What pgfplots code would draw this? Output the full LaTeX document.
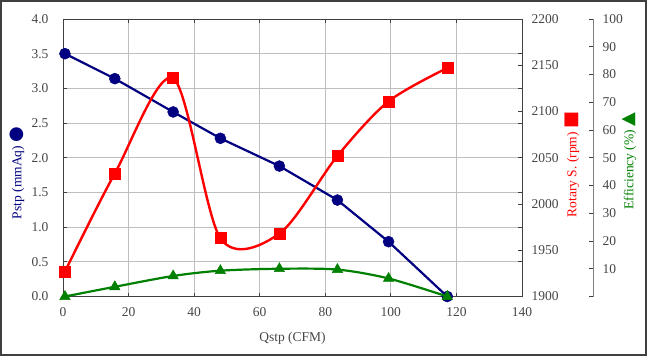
\documentclass[border=0pt]{standalone}
\usepackage{fontspec}
\setmainfont{Liberation Serif}
\newfontfamily\symfont{DejaVu Sans}
\usepackage{pgfplots}
\pgfplotsset{compat=1.18}
\definecolor{navyb}{RGB}{0,0,128}
\definecolor{gridc}{RGB}{190,190,190}
\definecolor{axc}{RGB}{64,64,64}
\definecolor{tickc}{RGB}{70,70,70}
\definecolor{effg}{RGB}{0,128,0}
\definecolor{effax}{RGB}{128,128,128}
\begin{document}
\begin{tikzpicture}[x=1pt,y=1pt,font=\fontsize{13.5}{16}\selectfont]
\useasboundingbox (0,0) rectangle (647,356);
\draw[axc, line width=1.5pt] (1,1) rectangle (646,355);
\pgfplotsset{
  base/.style={scale only axis, width=459pt, height=277.5pt,
    at={(63pt,59.5pt)}, anchor=south west, xmin=0, xmax=140,
    clip=false,
    /pgf/number format/assume math mode=true,
    tick label style={color=tickc, font=\fontsize{13.5}{16}\selectfont},
    axis line style={axc, line width=0.9pt},
    tick style={axc, line width=0.8pt},
    tick align=inside, major tick length=4pt},
}
\begin{axis}[base, ymin=0, ymax=4, ytick={0,0.5,...,4}, xtick={0,20,...,140},
  grid=major, grid style={gridc, line width=0.8pt},
  yticklabel style={xshift=-11pt, /pgf/number format/.cd, fixed, fixed zerofill, precision=1},
  xticklabel style={yshift=-7pt},
  every axis x label/.style={at={(axis description cs:0.5,0)}, anchor=center, yshift=-41.5pt},
  xlabel={Qstp (CFM)}, xlabel style={font=\fontsize{13.5}{16}\selectfont, color=tickc}]
\addplot[navyb, line width=2.2pt, mark=*, mark size=5.5pt, mark options={fill=navyb, line width=0.5pt}]
coordinates {(0.6,3.50) (15.8,3.14) (33.6,2.66) (48.0,2.28) (66.0,1.88) (83.7,1.39) (99.3,0.79) (117.2,0.0)};
\end{axis}
\begin{axis}[base, ymin=1900, ymax=2200, ytick={1900,1950,...,2200},
  axis y line*=right, axis x line=none,
  yticklabel style={xshift=6pt, /pgf/number format/.cd, set thousands separator={}}]
\addplot[red, line width=2.4pt, smooth, mark=square*, mark size=5.5pt, mark options={fill=red, line width=0.5pt}]
coordinates {(0.6,1927) (15.8,2033) (33.6,2136) (48.0,1963) (66.0,1968) (83.7,2052) (99.3,2111) (117.2,2147)};
\end{axis}
\begin{axis}[base, ymin=0, ymax=100, ytick={0,10,...,100},
  yticklabels={,10,20,30,40,50,60,70,80,90,100},
  axis y line*=right, axis x line=none,
  every outer y axis line/.append style={xshift=71pt, effax},
  ytick style={xshift=71pt},
  yticklabel style={xshift=77pt}]
\addplot[effg, line width=2.2pt, smooth, mark=triangle*, mark size=6pt, mark options={fill=effg, line width=0.5pt}]
coordinates {(0.6,0) (15.8,3.5) (33.6,7.4) (48.0,9.3) (66.0,10.0) (83.7,9.7) (99.3,6.5) (117.2,0)};
\end{axis}
\node[rotate=90, navyb] at (17,183) {Pstp (mmAq) {\symfont\fontsize{18}{18}\selectfont ●}};
\node[rotate=90, red] at (572,191.5) {Rotary S. (rpm) {\symfont\fontsize{18}{18}\selectfont ■}};
\node[rotate=90, effg] at (629,195) {Efficiency (\%) {\symfont\fontsize{18}{18}\selectfont ▲}};
\end{tikzpicture}
\end{document}
